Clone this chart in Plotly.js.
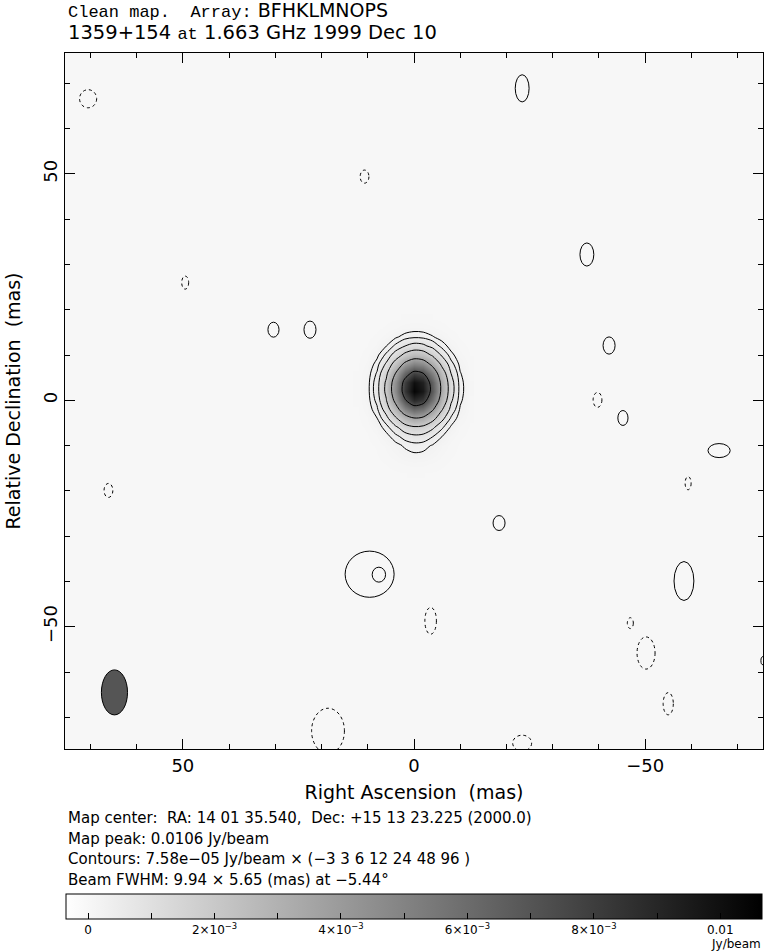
<!DOCTYPE html>
<html><head><meta charset="utf-8">
<script src="https://cdn.plot.ly/plotly-3.0.1.min.js"></script>
<style>html,body{margin:0;padding:0;background:#fff}</style>
</head><body><div id="chart" style="width:764px;height:952px"></div>
<script>
// ---- data read from the map ----
// grid of the central source (relative RA / Dec in mas), flux in mJy/beam
const raMas = [-12,-10,-8,-6,-4,-2,0,2,4,6,8,10,12];
const decMas = [-16,-14,-12,-10,-8,-6,-4,-2,0,2,4,6,8,10,12,14,16,18];
const fluxMJy = [
 [0,.001,.002,.006,.012,.018,.020,.016,.009,.004,.001,0,0],
 [0,.002,.009,.025,.050,.073,.079,.063,.037,.016,.005,.001,0],
 [.001,.006,.023,.062,.125,.183,.198,.157,.092,.039,.012,.003,0],
 [.002,.010,.038,.103,.206,.303,.327,.259,.151,.065,.020,.005,.001],
 [.005,.023,.086,.233,.467,.688,.743,.590,.344,.147,.046,.011,.002],
 [.010,.050,.187,.510,1.022,1.504,1.624,1.289,.751,.321,.101,.023,.004],
 [.022,.108,.402,1.098,2.199,3.237,3.495,2.775,1.617,.692,.217,.050,.008],
 [.038,.191,.708,1.931,3.869,5.695,6.148,4.881,2.844,1.217,.383,.088,.015],
 [.055,.274,1.019,2.780,5.570,8.198,8.851,7.027,4.095,1.752,.551,.127,.021],
 [.064,.322,1.197,3.266,6.542,9.629,10.395,8.253,4.809,2.058,.647,.149,.025],
 [.062,.310,1.150,3.138,6.286,9.253,9.989,7.931,4.621,1.978,.622,.143,.024],
 [.048,.243,.903,2.463,4.934,7.263,7.841,6.225,3.627,1.552,.488,.112,.019],
 [.031,.156,.579,1.580,3.165,4.658,5.029,3.993,2.327,.996,.313,.072,.012],
 [.016,.082,.303,.827,1.657,2.439,2.633,2.091,1.218,.521,.164,.038,.006],
 [.007,.035,.130,.354,.709,1.044,1.127,.894,.521,.223,.070,.016,.003],
 [.002,.012,.045,.124,.249,.366,.395,.314,.183,.078,.025,.006,.001],
 [.001,.003,.013,.035,.070,.104,.112,.089,.052,.022,.007,.002,0],
 [0,.001,.003,.008,.017,.025,.027,.021,.012,.005,.002,0,0]
];
const contourUnit = 7.58e-5;               // Jy/beam
const contourMultipliers = [-3,3,6,12,24,48,96];
const mapMin = -0.35e-3, mapMax = 10.66e-3; // grey-scale range, Jy/beam

// small noise contours: centre RA, Dec (mas), width, height (mas), sign (+1 solid, -1 dashed)
const blobRA  = [70.5,-23.4,10.7,49.5,-37.4,30.4,22.5,-42.2,-39.7,-45.2,-66.0,66.1,-59.3,-18.4,9.6,7.6,-3.6,-58.4,-46.8,-50.2,-55.0,18.6,-23.4,-75.5];
const blobDec = [66.6,68.9,49.4,26.0,32.2,15.6,15.6,12.1,0.1,-3.9,-11.1,-19.9,-18.3,-27.1,-38.4,-38.5,-48.7,-39.9,-49.2,-55.8,-67.0,-73.0,-75.7,-57.5];
const blobW   = [3.7,3.0,1.9,1.5,3.0,2.4,2.6,2.6,1.9,2.2,4.8,1.9,1.3,2.6,10.6,2.9,2.5,4.3,1.3,3.9,2.2,7.1,4.1,0.9];
const blobH   = [4.0,6.0,2.9,2.9,5.1,3.3,3.8,3.8,3.3,3.3,3.1,3.1,2.9,3.3,10.2,3.3,5.9,8.6,2.4,7.1,4.9,10.0,3.5,1.8];
const blobSign= [-1,1,-1,-1,1,1,1,1,-1,1,1,-1,-1,1,1,1,-1,1,-1,-1,-1,-1,-1,1];

// restoring beam
const beamRA = 64.8, beamDec = -64.5, beamMinor = 5.65, beamMajor = 9.94;

// colour-bar ticks
const cbTickVals = [0,0.001,0.002,0.003,0.004,0.005,0.006,0.007,0.008,0.009,0.01];
const cbTickText = ['0',' ','2×10<sup>−3</sup>',' ','4×10<sup>−3</sup>',' ','6×10<sup>−3</sup>',' ','8×10<sup>−3</sup>',' ','0.01'];

// ---- build ----
const zJy = fluxMJy.map(r => r.map(v => v * 1e-3));
const grey = [[0,'#ffffff'],[1,'#000000']];

const traces = [{
  type:'heatmap', x:raMas, y:decMas, z:zJy, zmin:mapMin, zmax:mapMax,
  colorscale:grey, zsmooth:'best', hoverinfo:'skip',
  colorbar:{orientation:'h', x:0.5, xanchor:'center', y:(749-894)/696, yanchor:'top',
    len:696, lenmode:'pixels', thickness:25, thicknessmode:'pixels', xpad:0, ypad:0,
    outlinecolor:'#000', outlinewidth:1, tickmode:'array', tickvals:cbTickVals, ticktext:cbTickText,
    ticks:'inside', ticklen:6, tickcolor:'#000', tickfont:{size:12, color:'#000'}}
}];
contourMultipliers.forEach(m => {
  const L = m * contourUnit;
  traces.push({type:'contour', x:raMas, y:decMas, z:zJy, autocontour:false,
    contours:{start:L, end:L, size:Math.abs(L), coloring:'lines', showlabels:false},
    colorscale:[[0,'#000'],[1,'#000']], showscale:false, hoverinfo:'skip',
    line:{width:1, dash: m < 0 ? '3px,3px' : 'solid', smoothing:0.9}});
});

const shapes = blobRA.map((ra,i) => ({type:'circle', xref:'x', yref:'y',
  x0: ra - blobW[i]/2, x1: ra + blobW[i]/2, y0: blobDec[i] - blobH[i]/2, y1: blobDec[i] + blobH[i]/2,
  line:{color:'#000', width:1, dash: blobSign[i] < 0 ? '3px,3px' : 'solid'}, fillcolor:'rgba(0,0,0,0)'}));
shapes.push({type:'circle', xref:'x', yref:'y',
  x0: beamRA - beamMinor/2, x1: beamRA + beamMinor/2, y0: beamDec - beamMajor/2, y1: beamDec + beamMajor/2,
  line:{color:'#000', width:1}, fillcolor:'#555555'});

const px = v => (v - 65) / 698, py = v => (749 - v) / 696;
const mono = s => '<span style="font-family:\'Liberation Mono\';font-size:17px">' + s + '</span>';
const ann = (text, x, y, size, xanchor) => ({text, xref:'paper', yref:'paper', x:px(x), y:py(y),
  xanchor: xanchor || 'left', yanchor:'middle', showarrow:false, font:{size, color:'#000'}});

const annotations = [
  ann(mono('Clean map.\u00a0\u00a0Array:') + ' BFHKLMNOPS', 66, 10, 19),
  ann('1359+154 ' + mono('at') + ' 1.663 GHz 1999 Dec 10', 66, 33, 19.5),
  ann('Map center:\u00a0\u00a0RA: 14 01 35.540,\u00a0\u00a0Dec: +15 13 23.225 (2000.0)', 66, 818, 15),
  ann('Map peak: 0.0106 Jy/beam', 66, 839, 15),
  ann('Contours: 7.58e−05 Jy/beam × (−3 3 6 12 24 48 96 )', 66, 859, 15),
  ann('Beam FWHM: 9.94 × 5.65 (mas) at −5.44°', 66, 880, 15),
  ann('Jy/beam', 763, 944, 12, 'right')
];

const axisCommon = {showgrid:false, zeroline:false, showline:true, linecolor:'#000', linewidth:1,
  mirror:'ticks', ticks:'inside', ticklen:10, tickcolor:'#000', tickmode:'linear', tick0:0, dtick:50,
  minor:{dtick:10, ticks:'inside', ticklen:5, tickcolor:'#000'}, tickfont:{size:18, color:'#000'}};

const layout = {
  width:764, height:952, margin:{l:65, r:1, t:53, b:203},
  paper_bgcolor:'#ffffff', plot_bgcolor:'#f7f7f7',
  font:{family:'DejaVu Sans', color:'#000'},
  showlegend:false,
  xaxis: Object.assign({}, axisCommon, {range:[75.5,-75.5],
    title:{text:'Right Ascension\u00a0\u00a0(mas)', font:{size:19}, standoff:11}}),
  yaxis: Object.assign({}, axisCommon, {range:[-77,76.7], tickangle:-90,
    title:{text:'Relative Declination\u00a0\u00a0(mas)', font:{size:19}, standoff:14}}),
  shapes, annotations
};
Plotly.newPlot('chart', traces, layout, {staticPlot:true});
</script></body></html>
